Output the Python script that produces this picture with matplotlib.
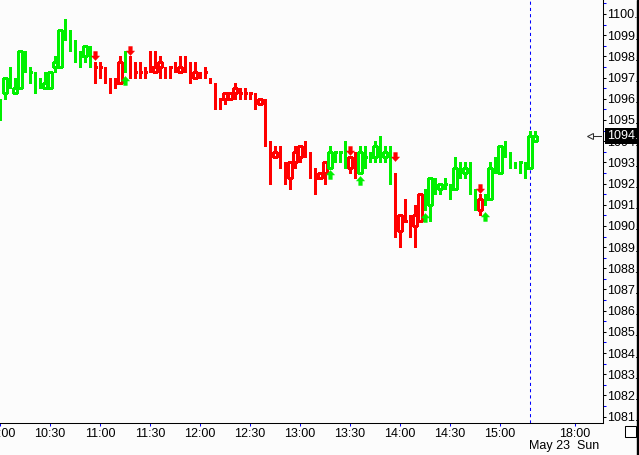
import numpy as np
import matplotlib
matplotlib.use('Agg')
import matplotlib.pyplot as plt
from matplotlib.path import Path
from matplotlib.patches import Rectangle
from matplotlib.ticker import MultipleLocator

# --- DATA: 3-minute bars (price, ES style quarter ticks) ---
OPEN = [1096, 1096.25, 1097, 1096.25, 1096.5, 1098, 1097.25, 1097.25, 1096.75, 1096.5,
        1096.5, 1097.5, 1097.5, 1099.25, 1099.25, 1098.75, 1098, 1098, 1098.5, 1097.5,
        1097.5, 1097.5, 1096.75, 1096.75, 1096.75, 1098, 1097.5, 1097.25, 1097.25, 1097.25,
        1097.5, 1097.25, 1097.5, 1097.5, 1097.5, 1097.5, 1097.25, 1097.75, 1097.5, 1097,
        1097.25, 1097.25, 1097, 1096.75, 1096, 1096, 1096, 1096.25, 1096.25, 1096.25,
        1096.25, 1096.25, 1095.75, 1095.75, 1094, 1093.25, 1093.5, 1093, 1092.25, 1093,
        1093.25, 1093.75, 1093.5, 1092.25, 1092.25, 1092.5, 1092.75, 1093.5, 1093.5, 1093.25,
        1092.75, 1093.25, 1092.5, 1093.25, 1093.25, 1093.25, 1094, 1093.25, 1093.75, 1092.5,
        1089.75, 1090.25, 1090.5, 1090, 1090.25, 1091.5, 1091, 1092, 1091.75, 1092,
        1091.75, 1091.75, 1092.75, 1092.5, 1092.75, 1091.5, 1090.75, 1091.25, 1091.25, 1092.75,
        1092.5, 1093.75, 1093.25, 1093, 1093, 1092.75, 1092.75, 1094]
HIGH = [1096, 1097, 1097.5, 1097, 1098.25, 1098.25, 1097.5, 1097.25, 1097, 1097.25,
        1097.25, 1098, 1099.25, 1099.75, 1099.25, 1098.75, 1098.25, 1098.5, 1098.5, 1097.75,
        1097.75, 1097.5, 1097, 1097, 1098, 1098.25, 1098, 1097.75, 1097.75, 1097.5,
        1098.25, 1098.25, 1098, 1097.5, 1097.5, 1097.75, 1098, 1098, 1097.75, 1097.75,
        1097.25, 1097.5, 1097, 1096.75, 1096, 1096.25, 1096.25, 1096.75, 1096.5, 1096.5,
        1096.25, 1096.25, 1096, 1096, 1094, 1093.75, 1093.75, 1093, 1093, 1093.75,
        1093.75, 1094, 1093.5, 1092.75, 1092.5, 1093, 1093.75, 1093.5, 1093.5, 1094,
        1093.25, 1093.5, 1093.75, 1093.75, 1093.5, 1094, 1094.25, 1093.75, 1093.75, 1092.5,
        1090.5, 1091.25, 1090.5, 1091, 1091.5, 1091.75, 1092.25, 1092.25, 1092, 1092.25,
        1092, 1093.25, 1093, 1093, 1093, 1091.75, 1091.5, 1091.5, 1093, 1093.25,
        1093.75, 1094, 1093.5, 1093, 1093, 1093, 1094.5, 1094.5]
LOW = [1095, 1096, 1096.5, 1096.25, 1096.5, 1097.25, 1096.75, 1096.25, 1096.5, 1096.5,
       1096.5, 1097.25, 1097.5, 1098.75, 1098.25, 1097.75, 1097.5, 1097.75, 1097.5, 1096.75,
       1097, 1096.75, 1096.25, 1096.5, 1096.75, 1097.25, 1097, 1097, 1097, 1097,
       1097.25, 1097.25, 1097, 1097, 1097, 1097.25, 1097.25, 1097.25, 1096.75, 1097,
       1097, 1097, 1096.75, 1095.5, 1095.5, 1095.75, 1096, 1096, 1096, 1096,
       1096, 1095.5, 1095.75, 1093.75, 1092, 1093.25, 1092.75, 1092, 1091.75, 1092.75,
       1093, 1093.25, 1092.25, 1091.5, 1092.25, 1092, 1092.75, 1093, 1093, 1092.75,
       1092.5, 1092.25, 1092.5, 1092.75, 1093, 1093, 1093, 1093, 1092, 1089.5,
       1089, 1090.25, 1089.5, 1089, 1090.25, 1090.75, 1090.25, 1091.5, 1091.5, 1091.75,
       1091.25, 1091.75, 1092.25, 1092.25, 1091.5, 1090.75, 1090.5, 1091, 1091.25, 1092.5,
       1092.5, 1093.25, 1092.75, 1092.75, 1092.5, 1092.25, 1092.75, 1094]
CLOSE = [1095, 1097, 1096.5, 1096.5, 1098.25, 1097.5, 1097.25, 1096.75, 1096.5, 1096.75,
         1097.25, 1097.75, 1099.25, 1099, 1098.75, 1097.75, 1098, 1098.5, 1097.5, 1097.5,
         1097.5, 1096.75, 1096.5, 1096.75, 1097.75, 1097.5, 1097.25, 1097.25, 1097.25, 1097.25,
         1097.5, 1097.5, 1097.75, 1097.25, 1097.5, 1097.25, 1097.5, 1097.25, 1097, 1097.25,
         1097, 1097.25, 1096.75, 1096, 1096, 1096.25, 1096.25, 1096.5, 1096.25, 1096.25,
         1096.25, 1095.75, 1096, 1093.75, 1093.25, 1093.5, 1093, 1092, 1093, 1093.5,
         1093.75, 1093.5, 1092.25, 1092.25, 1092.5, 1093, 1093.5, 1093.5, 1093.5, 1092.75,
         1093.25, 1092.5, 1093.5, 1093.25, 1093.25, 1093.75, 1093.25, 1093.5, 1092.5, 1089.75,
         1090.5, 1090.25, 1089.75, 1090.5, 1091.5, 1090.75, 1092.25, 1091.75, 1092, 1092,
         1091.75, 1092.75, 1092.5, 1092.75, 1091.75, 1090.75, 1091.25, 1091.25, 1092.75, 1092.75,
         1093.75, 1093.5, 1093, 1092.75, 1093, 1092.75, 1094.25, 1094.25]
# trend colour of each bar: G = green, R = red
TREND = ("GGGGGGGGGGGGGGGGGGG" "RRRRRR" "G" "RRRRRRRRRRRRRRRRRRRRRRRRRRRRRRRRRRRRRRRR"
         "GGGG" "RR" "GGGGGGG" "RRRRRR" "GGGGGGGGGGG" "R" "GGGGGGGGGGG")

# signal arrows: bar index and price of the arrow tip
SELL_BARS = [19, 26, 70, 79, 96]
SELL_PRICE = [1097.85, 1098.05, 1093.35, 1093.05, 1091.55]
BUY_BARS = [25, 66, 72, 85, 97]
BUY_PRICE = [1097.07, 1092.65, 1092.35, 1090.6, 1090.65]

# sessions (start time, number of bars), bar length in minutes
SESSION_START = ["10:00", "17:33"]
SESSION_BARS = [106, 2]
BAR_MINUTES = 3
NEW_SESSION_LABEL = "May 23  Sun"

PRICE_TICKS = list(range(1081, 1101))

# --- STYLE ---
GREEN = '#00f000'
RED = '#ff0000'
BG = '#fcfcfc'
BLUE = '#0000ff'
FS = 9

plt.rcParams['font.family'] = ['Liberation Sans', 'DejaVu Sans']

W, H = 639, 455
fig = plt.figure(figsize=(W / 100, H / 100), dpi=100, facecolor=BG)
ax = fig.add_axes([0, 32 / H, 602.5 / W, 423 / H], facecolor=BG)

o = np.array(OPEN)
h = np.array(HIGH)
l = np.array(LOW)
c = np.array(CLOSE)
x = np.arange(len(o))
cols = np.array([GREEN if t == 'G' else RED for t in TREND])

lw = 0.75
ax.vlines(x, l, h, colors=cols, lw=lw, antialiased=False, zorder=2)
dn = c < o
up = c > o
fl = c == o
ax.bar(x[dn], (o - c)[dn], bottom=c[dn], width=0.6, color=cols[dn], lw=0,
       antialiased=False, zorder=3)
# hollow bodies need a bit more width so the inside stays open
ax.bar(x[up], (c - o)[up], bottom=o[up], width=0.7, facecolor=BG,
       edgecolor=cols[up], lw=lw, antialiased=False, zorder=3)
ax.hlines(o[fl], x[fl] - 0.3, x[fl] + 0.3, colors=cols[fl], lw=lw,
          antialiased=False, zorder=3)

# arrows (tip at the marker origin)
down_arrow = Path([(0, 0), (0.45, 0.5), (0.2, 0.5), (0.2, 1), (-0.2, 1),
                   (-0.2, 0.5), (-0.45, 0.5), (0, 0)], closed=True)
up_arrow = Path([(0, 0), (0.45, -0.5), (0.2, -0.5), (0.2, -1), (-0.2, -1),
                 (-0.2, -0.5), (-0.45, -0.5), (0, 0)], closed=True)
ax.plot(SELL_BARS, SELL_PRICE, ls='none', marker=down_arrow, ms=13,
        mfc=RED, mec=RED, mew=0.3, zorder=4)
ax.plot(BUY_BARS, BUY_PRICE, ls='none', marker=up_arrow, ms=13,
        mfc=GREEN, mec=GREEN, mew=0.3, zorder=4)

# time axis from sessions
def to_min(s):
    hh, mm = s.split(':')
    return int(hh) * 60 + int(mm)

n_slots = 121
slot_time = []
first_bar = []
pos = 0
for k, (st, nb) in enumerate(zip(SESSION_START, SESSION_BARS)):
    first_bar.append(pos)
    count = nb if k < len(SESSION_START) - 1 else n_slots - pos
    for j in range(count):
        slot_time.append(to_min(st) + j * BAR_MINUTES)
    pos += nb

tick_pos = [i for i, t in enumerate(slot_time) if t % 30 == 0]
tick_lab = [f"{slot_time[i] // 60}:{slot_time[i] % 60:02d}" for i in tick_pos]

ax.set_xlim(-0.02, 120.48)
ax.set_ylim(1080.70, 1100.66)
ax.set_xticks(tick_pos)
ax.set_xticklabels(tick_lab)
ax.yaxis.tick_right()
ax.set_yticks(PRICE_TICKS)
ax.set_yticklabels([f"{v}." for v in PRICE_TICKS])
ax.yaxis.set_minor_locator(MultipleLocator(0.5))

for s in ['top', 'left']:
    ax.spines[s].set_visible(False)
for s in ['right', 'bottom']:
    ax.spines[s].set_linewidth(0.75)
    ax.spines[s].set_color('black')

ax.tick_params(axis='x', direction='out', length=2.2, width=0.75, color=BLUE,
               pad=1.5, labelsize=FS, labelcolor='black')
ax.tick_params(axis='y', which='major', direction='out', length=2.2, width=0.75,
               color='black', pad=1.2, labelsize=FS)
ax.tick_params(axis='y', which='minor', direction='out', length=2.2, width=0.75,
               color=BLUE)

# session break
for fb in first_bar[1:]:
    ax.axvline(fb, color=BLUE, lw=0.75, dashes=(3, 3), zorder=1)
    ax.annotate(NEW_SESSION_LABEL, xy=(fb, 0), xycoords=('data', 'axes fraction'),
                xytext=(-0.5, -12), textcoords='offset points', ha='left', va='top',
                fontsize=FS, annotation_clip=False)

# last price marker
last = CLOSE[-1]
ax.plot([118.0], [last], marker='<', ms=4.5, mfc='none', mec='#303030', mew=0.75,
        clip_on=False, zorder=5)
ax.plot([118.6, 120.1], [last, last], color='#303030', lw=0.75, clip_on=False, zorder=5)
ax.annotate(f"{int(last)}.", xy=(1, last), xycoords=('axes fraction', 'data'),
            xytext=(3.3, 0), textcoords='offset points', ha='left', va='center',
            fontsize=FS, color='white', annotation_clip=False, zorder=6,
            bbox=dict(boxstyle='square,pad=0.18', fc='black', ec='none'))

# right frame and corner box
fig.add_artist(Rectangle((636.5 / W, 0), 2.5 / W, 1, transform=fig.transFigure,
                         color='black', zorder=10))
fig.add_artist(Rectangle((625 / W, (H - 437) / H), 11 / W, 11 / H,
                         transform=fig.transFigure, facecolor='white',
                         edgecolor='black', lw=0.75, zorder=10))

fig.savefig('out.png', dpi=100, facecolor=BG)
